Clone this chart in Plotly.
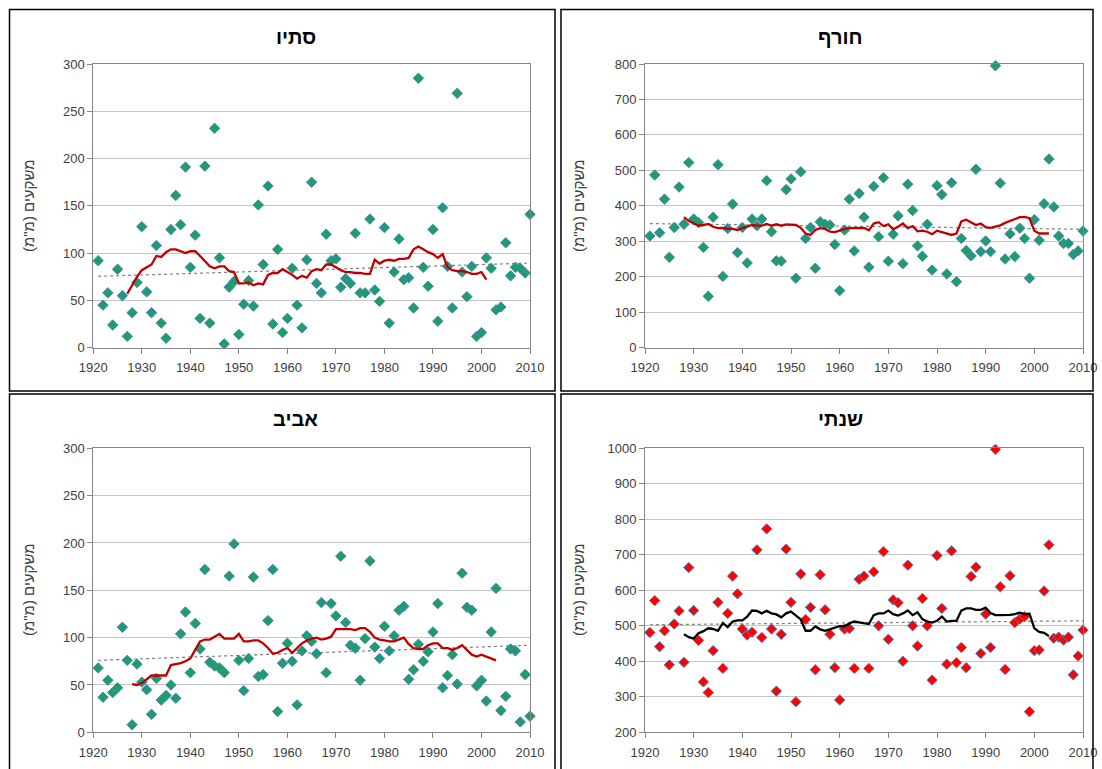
import plotly.graph_objects as go

# ---------------- data ----------------
years = list(range(1921, 2011))

autumn = [92, 45, 58, 24, 83, 55, 12, 37, 69, 128,
          59, 37, 108, 26, 10, 125, 161, 130, 191, 85,
          119, 31, 192, 26, 232, 95, 4, 64, 70, 14,
          46, 71, 44, 151, 88, 171, 25, 104, 16, 31,
          84, 45, 21, 93, 175, 68, 58, 120, 92, 94,
          64, 73, 68, 121, 58, 58, 136, 61, 49, 127,
          26, 80, 115, 72, 74, 42, 285, 85, 65, 125,
          28, 148, 86, 42, 269, 80, 54, 86, 12, 16,
          95, 84, 40, 43, 111, 76, 85, 84, 79, 141]

winter = [315, 487, 324, 419, 255, 339, 453, 348, 522, 363,
          353, 283, 145, 368, 516, 201, 336, 405, 268, 339,
          239, 363, 344, 363, 471, 327, 245, 244, 446, 476,
          196, 496, 308, 339, 224, 355, 348, 346, 291, 161,
          332, 419, 273, 435, 368, 227, 455, 313, 479, 244,
          320, 372, 237, 461, 387, 287, 258, 348, 219, 457,
          432, 208, 465, 186, 308, 274, 259, 503, 271, 301,
          271, 795, 464, 250, 321, 257, 337, 308, 196, 361,
          303, 406, 532, 397, 315, 294, 294, 263, 273, 329]

spring = [68, 37, 55, 42, 47, 111, 76, 8, 72, 53,
          45, 19, 57, 34, 39, 50, 36, 104, 127, 63,
          115, 88, 172, 74, 70, 68, 63, 165, 199, 76,
          44, 78, 164, 59, 61, 118, 172, 22, 73, 94,
          75, 29, 86, 102, 96, 83, 137, 63, 136, 123,
          186, 116, 92, 89, 55, 99, 181, 90, 78, 112,
          86, 102, 129, 133, 56, 66, 93, 75, 85, 106,
          136, 47, 60, 82, 51, 168, 132, 129, 49, 55,
          33, 106, 152, 23, 38, 88, 86, 11, 61, 17]

annual = [481, 571, 441, 486, 390, 505, 542, 397, 664, 543,
          459, 342, 312, 430, 566, 380, 535, 640, 590, 491,
          474, 482, 714, 467, 773, 491, 316, 476, 716, 566,
          286, 646, 518, 552, 376, 644, 545, 476, 382, 291,
          491, 492, 380, 631, 640, 380, 652, 500, 709, 462,
          573, 565, 400, 671, 500, 443, 577, 500, 347, 698,
          549, 392, 711, 396, 439, 382, 639, 665, 422, 533,
          439, 997, 610, 377, 641, 509, 519, 526, 258, 430,
          432, 598, 728, 465, 468, 460, 468, 362, 415, 488]

# moving-average curves
autumn_ma_years = list(range(1927, 2002))
autumn_ma = [57, 66, 75, 82, 85, 88, 97, 96, 101, 104,
             104, 102, 100, 102, 102, 97, 91, 86, 84, 86,
             86, 81, 80, 68, 68, 69, 66, 68, 67, 77,
             79, 79, 83, 80, 77, 73, 76, 74, 81, 83,
             82, 88, 88, 85, 82, 80, 80, 79, 79, 78,
             78, 93, 89, 92, 93, 92, 94, 94, 95, 104,
             107, 104, 101, 99, 95, 99, 85, 82, 81, 81,
             80, 78, 78, 80, 72]

winter_ma_years = list(range(1928, 2004))
winter_ma = [368, 357, 351, 344, 346, 349, 341, 337, 338, 335,
             335, 332, 337, 341, 346, 344, 344, 349, 344, 348,
             344, 348, 348, 346, 338, 322, 318, 332, 337, 335,
             327, 326, 330, 335, 337, 337, 337, 338, 331, 350,
             354, 343, 348, 334, 341, 350, 337, 343, 328, 330,
             327, 320, 330, 326, 320, 318, 322, 356, 361, 354,
             346, 350, 340, 338, 342, 345, 352, 358, 362, 368,
             369, 365, 330, 322, 322, 322]

spring_ma_years = list(range(1928, 2004))
spring_ma = [51, 50, 52, 56, 60, 60, 60, 60, 71, 72,
             73, 75, 78, 87, 96, 98, 98, 101, 104, 99,
             99, 99, 104, 96, 96, 97, 97, 94, 89, 83,
             84, 87, 89, 84, 89, 94, 97, 99, 100, 98,
             99, 101, 109, 109, 109, 109, 108, 110, 110, 106,
             100, 98, 97, 96, 96, 98, 100, 93, 89, 88,
             88, 92, 94, 94, 89, 89, 87, 89, 92, 87,
             82, 80, 82, 80, 78, 76]

annual_ma_years = list(range(1928, 2004))
annual_ma = [476, 468, 464, 479, 485, 493, 491, 486, 508, 496,
             512, 515, 515, 526, 543, 542, 535, 542, 535, 532,
             524, 535, 540, 530, 518, 486, 486, 498, 490, 486,
             490, 496, 499, 498, 507, 512, 509, 507, 505, 530,
             535, 535, 543, 533, 529, 535, 543, 530, 538, 519,
             512, 509, 514, 526, 512, 514, 514, 543, 549, 549,
             545, 545, 551, 536, 530, 530, 530, 531, 533, 537,
             533, 534, 493, 483, 480, 471]

# linear trend end points
trend_years = [1921, 2010]
autumn_trend = [75.5, 89.5]
winter_trend = [350, 334]
spring_trend = [76, 92]
annual_trend = [503, 514]

titles = ["סתיו", "חורף", "אביב", "שנתי"]
y_title = 'משקעים (מ"מ)'
y_ranges = [[0, 300], [0, 800], [0, 300], [200, 1000]]
y_dticks = [50, 100, 50, 100]

# ---------------- figure ----------------
W, H = 1102, 769
fig = go.Figure()

GREEN = "#1c9e6c"
BORDER = "#4f81bd"
DARKRED = "#c00000"

panels = [
    dict(vals=autumn, ma_x=autumn_ma_years, ma=autumn_ma, tr=autumn_trend,
         fill=GREEN, line=DARKRED),
    dict(vals=winter, ma_x=winter_ma_years, ma=winter_ma, tr=winter_trend,
         fill=GREEN, line=DARKRED),
    dict(vals=spring, ma_x=spring_ma_years, ma=spring_ma, tr=spring_trend,
         fill=GREEN, line=DARKRED),
    dict(vals=annual, ma_x=annual_ma_years, ma=annual_ma, tr=annual_trend,
         fill="#ff0000", line="#000000"),
]

# pixel geometry of plot areas
px_x = [(93.3, 530), (645, 1083), (93.3, 530), (645, 1083)]
px_y = [(64, 347.7), (64, 347.7), (448.3, 732.3), (448.3, 732.3)]

for i, p in enumerate(panels):
    n = "" if i == 0 else str(i + 1)
    xa, ya = "x" + n, "y" + n
    fig.add_trace(go.Scatter(
        x=trend_years, y=p["tr"], mode="lines", xaxis=xa, yaxis=ya,
        line=dict(color="#808080", width=1.2, dash="dot"),
        showlegend=False, hoverinfo="skip"))
    fig.add_trace(go.Scatter(
        x=years, y=p["vals"], mode="markers", xaxis=xa, yaxis=ya,
        marker=dict(symbol="diamond", size=8, color=p["fill"],
                    line=dict(color=BORDER, width=1)),
        cliponaxis=False, showlegend=False))
    fig.add_trace(go.Scatter(
        x=p["ma_x"], y=p["ma"], mode="lines", xaxis=xa, yaxis=ya,
        line=dict(color=p["line"], width=2.3),
        showlegend=False))

    x0, x1 = px_x[i]
    y0, y1 = px_y[i]
    axis_common = dict(showline=True, linecolor="#868686", linewidth=1,
                       mirror=True, ticks="outside", ticklen=5,
                       tickcolor="#868686", automargin=False,
                       tickfont=dict(family="Liberation Sans", size=13,
                                     color="#404040"),
                       zeroline=False, fixedrange=True)
    fig.update_layout(**{
        ("xaxis" + n): dict(domain=[x0 / W, x1 / W], anchor=ya,
                            range=[1920, 2010], dtick=10, tick0=1920,
                            showgrid=False, ticklabelstandoff=3,
                            **axis_common),
        ("yaxis" + n): dict(domain=[1 - y1 / H, 1 - y0 / H], anchor=xa,
                            range=y_ranges[i], dtick=y_dticks[i],
                            showgrid=True, gridcolor="#c4c4c4", gridwidth=1.2,
                            **axis_common),
    })

# frames around each panel
frames = [(9.5, 9.5, 555, 391), (561, 9.5, 1093, 391),
          (9.5, 394, 555, 780), (561, 394, 1093, 780)]
shapes = []
for (fx0, fy0, fx1, fy1) in frames:
    shapes.append(dict(type="rect", xref="paper", yref="paper",
                       x0=fx0 / W, x1=fx1 / W, y0=1 - fy1 / H, y1=1 - fy0 / H,
                       line=dict(color="#000000", width=1.5),
                       fillcolor="rgba(0,0,0,0)", layer="above"))

annotations = []
title_pos = [(296, 37), (840, 37), (295, 419), (840, 419)]
for t, (tx, ty) in zip(titles, title_pos):
    annotations.append(dict(text="<b>" + t + "</b>", x=tx / W, y=1 - ty / H,
                            xref="paper", yref="paper", showarrow=False,
                            xanchor="center", yanchor="middle",
                            font=dict(family="Liberation Sans", size=20,
                                      color="#000000")))
ytitle_pos = [(28, 206), (578, 206), (28, 590), (578, 590)]
for (tx, ty) in ytitle_pos:
    annotations.append(dict(text=y_title, x=tx / W, y=1 - ty / H,
                            xref="paper", yref="paper", showarrow=False,
                            textangle=-90, xanchor="center", yanchor="middle",
                            font=dict(family="Liberation Sans", size=15,
                                      color="#404040")))

fig.update_layout(width=W, height=H, margin=dict(l=0, r=0, t=0, b=0, pad=0),
                  paper_bgcolor="white", plot_bgcolor="white",
                  shapes=shapes, annotations=annotations, showlegend=False)

fig.write_html("out.html", config={"displayModeBar": False},
               post_script="document.body.style.margin='0';document.body.style.overflow='hidden';")
